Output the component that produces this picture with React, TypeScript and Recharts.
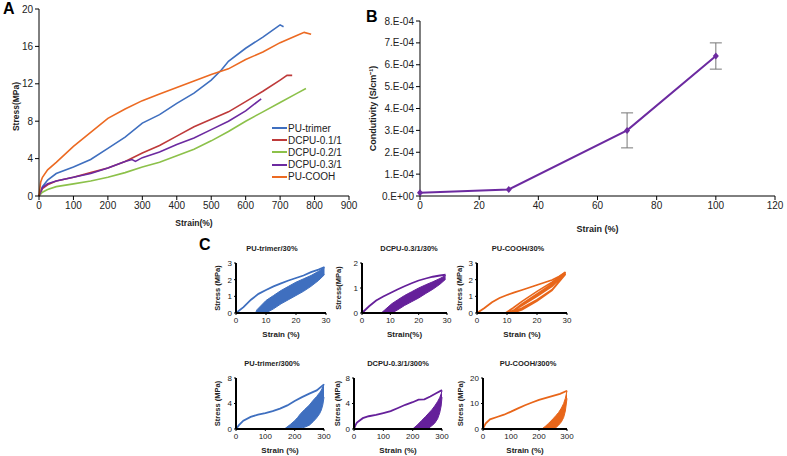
import React from "react";
import {
  LineChart,
  ComposedChart,
  Line,
  Area,
  XAxis,
  YAxis,
  ErrorBar,
} from "recharts";

const FONT = "Arial, 'Liberation Sans', sans-serif";

const BLUE = "#3f6fbf";
const RED = "#be3a3a";
const GREEN = "#8cc14a";
const PURPLE = "#6c2aa0";
const ORANGE = "#ec6a22";
const C_PURPLE = "#65209a";
const C_ORANGE = "#e8661a";

// ---- Panel A: stress-strain curves ----
const trimerX = [0, 10, 25, 50, 100, 150, 200, 250, 300, 350, 400, 450, 500, 530, 550, 600, 650, 700, 710];
const trimerY = [0, 1.0, 1.7, 2.4, 3.1, 3.9, 5.1, 6.3, 7.8, 8.7, 9.9, 11.0, 12.4, 13.5, 14.4, 15.8, 17.0, 18.3, 18.1];

const dcpu01X = [0, 10, 25, 50, 100, 150, 200, 250, 300, 350, 400, 450, 500, 550, 600, 650, 700, 720, 735];
const dcpu01Y = [0, 0.8, 1.2, 1.6, 2.0, 2.5, 3.0, 3.7, 4.6, 5.4, 6.4, 7.4, 8.2, 9.0, 10.1, 11.2, 12.4, 12.9, 12.9];

const dcpu02X = [0, 10, 25, 50, 100, 150, 200, 250, 300, 350, 400, 450, 500, 550, 600, 650, 700, 750, 775];
const dcpu02Y = [0, 0.4, 0.7, 1.0, 1.3, 1.6, 2.0, 2.5, 3.1, 3.6, 4.3, 5.0, 5.9, 6.9, 8.0, 9.0, 10.0, 11.0, 11.5];

const dcpu03X = [0, 10, 25, 50, 100, 150, 200, 250, 270, 280, 300, 350, 400, 450, 500, 550, 600, 645];
const dcpu03Y = [0, 0.9, 1.3, 1.6, 2.0, 2.4, 3.0, 3.7, 3.9, 3.7, 4.1, 4.7, 5.5, 6.2, 7.1, 8.0, 9.1, 10.4];

const coohX = [0, 5, 10, 25, 50, 100, 150, 200, 250, 300, 350, 400, 450, 500, 550, 600, 650, 700, 750, 770, 790];
const coohY = [0, 1.5, 2.0, 2.8, 3.6, 5.3, 6.8, 8.3, 9.3, 10.2, 10.9, 11.6, 12.3, 13.0, 13.6, 14.6, 15.4, 16.4, 17.2, 17.5, 17.3];

const aNames = ["PU-trimer", "DCPU-0.1/1", "DCPU-0.2/1", "DCPU-0.3/1", "PU-COOH"];
const aColors = [BLUE, RED, GREEN, PURPLE, ORANGE];
const aXTicks = [0, 100, 200, 300, 400, 500, 600, 700, 800, 900];
const aYTicks = [0, 4, 8, 12, 16, 20];

// ---- Panel B: conductivity ----
const bStrain = [0, 30, 70, 100];
const bCond = [0.000015, 0.00003, 0.0003, 0.00064];
const bErr = [0, 0, 0.00008, 0.00006];
const bXTicks = [0, 20, 40, 60, 80, 100, 120];
const bYTicks = [0, 0.0001, 0.0002, 0.0003, 0.0004, 0.0005, 0.0006, 0.0007, 0.0008];
const bYLabels = ["0.E+00", "1.E-04", "2.E-04", "3.E-04", "4.E-04", "5.E-04", "6.E-04", "7.E-04", "8.E-04"];

// ---- Panel C: cyclic loading ----
const c1LoadX = [0, 2.5, 5, 7.5, 10, 12.5, 15, 17.5, 20, 22.5, 25, 27.5, 29.5];
const c1LoadY = [0, 0.35, 0.8, 1.15, 1.38, 1.6, 1.78, 1.95, 2.1, 2.25, 2.45, 2.6, 2.75];
const c1BandX = [6.5, 7, 10, 12.5, 15, 17.5, 20, 22.5, 25, 27.5, 29.5];
const c1BandLow = [0, 0, 0, 0.25, 0.55, 0.8, 1.05, 1.3, 1.6, 1.95, 2.3];
const c1BandHigh = [0, 0.2, 0.75, 1.05, 1.35, 1.6, 1.85, 2.05, 2.25, 2.5, 2.72];

const c2LoadX = [0, 2.5, 5, 7.5, 10, 12.5, 15, 17.5, 20, 22.5, 25, 27.5, 29.5];
const c2LoadY = [0, 0.27, 0.5, 0.66, 0.8, 0.94, 1.07, 1.19, 1.3, 1.38, 1.45, 1.5, 1.53];
const c2BandX = [6.8, 8, 10.5, 12.5, 15, 17.5, 20, 22.5, 25, 27.5, 29.5];
const c2BandLow = [0, 0, 0, 0.12, 0.3, 0.45, 0.6, 0.78, 0.95, 1.15, 1.35];
const c2BandHigh = [0, 0.12, 0.37, 0.52, 0.7, 0.85, 1.0, 1.13, 1.25, 1.38, 1.5];

const c3LoadX = [0, 2.5, 5, 7.5, 10, 12.5, 15, 17.5, 20, 22.5, 25, 27.5, 29.5];
const c3LoadY = [0, 0.3, 0.65, 0.9, 1.08, 1.24, 1.38, 1.53, 1.68, 1.83, 1.98, 2.2, 2.45];
const c3CycleX = [29.5, 25, 20, 15, 12, 9.5, 10, 12.5, 15, 20, 25, 29.5, 25, 20, 15, 12.5, 10.5, 11, 15, 20, 25, 29.5, 25, 20, 15, 11.5, 12, 15, 20, 25, 29.5];
const c3CycleY = [2.45, 1.85, 1.3, 0.7, 0.3, 0, 0, 0.2, 0.45, 1.0, 1.6, 2.4, 1.75, 1.15, 0.55, 0.2, 0, 0, 0.3, 0.8, 1.4, 2.35, 1.7, 1.1, 0.5, 0, 0, 0.2, 0.72, 1.35, 2.32];

const c4LoadX = [0, 10, 25, 50, 75, 100, 125, 150, 175, 200, 225, 250, 275, 300];
const c4LoadY = [0, 0.6, 1.3, 1.9, 2.25, 2.5, 2.8, 3.2, 3.7, 4.4, 5.0, 5.55, 6.05, 7.0];
const c4BandX = [165, 185, 200, 210, 220, 235, 250, 263, 275, 285, 291, 296, 300];
const c4BandLow = [0, 0, 0, 0, 0.1, 0.3, 0.6, 1.15, 1.75, 2.4, 3.0, 3.8, 5.0];
const c4BandHigh = [0, 0.7, 1.3, 1.8, 2.4, 3.1, 3.75, 4.5, 5.1, 5.7, 6.1, 6.6, 7.0];

const c5LoadX = [0, 5, 10, 30, 50, 75, 100, 125, 150, 175, 200, 220, 240, 260, 280, 300];
const c5LoadY = [0, 0.6, 1.0, 1.7, 2.0, 2.2, 2.5, 2.8, 3.3, 3.8, 4.2, 4.6, 4.65, 5.1, 5.6, 6.1];
const c5BandX = [200, 215, 230, 245, 255, 265, 275, 285, 292, 297, 300];
const c5BandLow = [0, 0, 0, 0, 0.15, 0.5, 0.9, 1.6, 2.5, 3.6, 5.0];
const c5BandHigh = [0, 0.6, 1.3, 2.0, 2.5, 3.0, 3.6, 4.3, 4.9, 5.5, 6.0];

const c6LoadX = [0, 5, 10, 25, 50, 75, 100, 125, 150, 175, 200, 225, 250, 275, 300];
const c6LoadY = [0, 1.2, 2.2, 3.8, 4.7, 5.6, 6.8, 8.1, 9.3, 10.4, 11.4, 12.2, 13.0, 13.8, 15.0];
const c6BandX = [210, 222, 235, 250, 260, 270, 280, 288, 294, 300];
const c6BandLow = [0, 0, 0, 0, 0.5, 1.5, 2.8, 4.5, 7, 12];
const c6BandHigh = [0, 1.0, 2.3, 4.0, 5.2, 6.5, 8.2, 10.0, 12, 15];

const pts = (xs: number[], ys: number[]) => xs.map((x, i) => ({ x, y: ys[i] }));
const band = (xs: number[], lo: number[], hi: number[]) =>
  xs.map((x, i) => ({ x, r: [lo[i], hi[i]] }));

const aSeries = [
  pts(trimerX, trimerY),
  pts(dcpu01X, dcpu01Y),
  pts(dcpu02X, dcpu02Y),
  pts(dcpu03X, dcpu03Y),
  pts(coohX, coohY),
];

const tickA = { fontSize: 10, fill: "#222", fontFamily: FONT };
const tickC = { fontSize: 8, fill: "#222", fontFamily: FONT };

const Diamond = (props: any) => {
  const { cx, cy } = props;
  if (cx == null || cy == null) return null;
  return (
    <path
      d={`M${cx},${cy - 3.5}L${cx + 3},${cy}L${cx},${cy + 3.5}L${cx - 3},${cy}Z`}
      fill={PURPLE}
    />
  );
};

const PanelLetter = ({ x, y, text }: { x: number; y: number; text: string }) => (
  <div
    style={{
      position: "absolute",
      left: x,
      top: y,
      fontFamily: FONT,
      fontWeight: "bold",
      fontSize: 16,
      lineHeight: "16px",
    }}
  >
    {text}
  </div>
);

interface CycleProps {
  x0: number;
  x1: number;
  y0: number;
  y1: number;
  title: string;
  titleX: number;
  titleY: number;
  color: string;
  xMax: number;
  xTicks: number[];
  yMax: number;
  yTicks: number[];
  yLabel: string;
  xLabel: string;
  yGap: number;
  load: { x: number; y: number }[];
  band?: { x: number; r: number[] }[];
  cycles?: { x: number; y: number }[];
}

const CycleChart = (p: CycleProps) => {
  const left = p.x0 - 36;
  const top = p.y0 - 8;
  const w = p.x1 - p.x0 + 36 + 9;
  const h = p.y1 - p.y0 + 8 + 24 + 8;
  return (
    <>
      <div
        style={{
          position: "absolute",
          left: p.titleX,
          top: p.titleY,
          transform: "translate(-50%, -50%)",
          whiteSpace: "nowrap",
          fontFamily: FONT,
          fontWeight: "bold",
          fontSize: 7.5,
          color: "#222",
        }}
      >
        {p.title}
      </div>
      <div style={{ position: "absolute", left, top }}>
        <ComposedChart width={w} height={h} margin={{ top: 8, right: 9, bottom: 8, left: 6 }}>
          <XAxis
            type="number"
            dataKey="x"
            domain={[0, p.xMax]}
            ticks={p.xTicks}
            tick={tickC}
            tickSize={2}
            height={24}
            axisLine={{ stroke: "#000", strokeWidth: 2 }}
            tickLine={{ stroke: "#000" }}
            label={{
              value: p.xLabel,
              position: "insideBottom",
              offset: 0,
              style: { fontFamily: FONT, fontWeight: "bold", fontSize: 8, fill: "#222" },
            }}
          />
          <YAxis
            type="number"
            domain={[0, p.yMax]}
            ticks={p.yTicks}
            tick={tickC}
            tickSize={2}
            width={30}
            axisLine={{ stroke: "#000", strokeWidth: 2 }}
            tickLine={{ stroke: "#000" }}
            label={{
              value: p.yLabel,
              angle: -90,
              position: "insideLeft",
              offset: 30 - p.yGap,
              style: { textAnchor: "middle", fontFamily: FONT, fontWeight: "bold", fontSize: 7.5, fill: "#222" },
            }}
          />
          {p.band && (
            <Area
              data={p.band}
              dataKey="r"
              type="linear"
              stroke={p.color}
              strokeWidth={1}
              fill={p.color}
              fillOpacity={1}
              isAnimationActive={false}
            />
          )}
          {p.cycles && (
            <Line
              data={p.cycles}
              dataKey="y"
              type="linear"
              stroke={p.color}
              strokeWidth={1.6}
              dot={false}
              isAnimationActive={false}
            />
          )}
          <Line
            data={p.load}
            dataKey="y"
            type="linear"
            stroke={p.color}
            strokeWidth={1.8}
            dot={false}
            isAnimationActive={false}
          />
        </ComposedChart>
      </div>
    </>
  );
};

export default function App() {
  return (
    <div style={{ position: "absolute", left: 0, top: 0, width: 787, height: 456, background: "#fff" }}>
      {/* Panel A */}
      <div style={{ position: "absolute", left: 0, top: 0 }}>
        <LineChart width={360} height={232} margin={{ top: 9, right: 11, bottom: 6, left: 8 }}>
          <XAxis
            type="number"
            dataKey="x"
            domain={[0, 900]}
            ticks={aXTicks}
            tick={tickA}
            tickSize={4}
            height={30}
            axisLine={{ stroke: "#000" }}
            tickLine={{ stroke: "#000" }}
            label={{
              value: "Strain(%)",
              position: "insideBottom",
              offset: 0,
              style: { fontFamily: FONT, fontWeight: "bold", fontSize: 8.5, fill: "#222" },
            }}
          />
          <YAxis
            type="number"
            domain={[0, 20]}
            ticks={aYTicks}
            tick={tickA}
            tickSize={4}
            width={31}
            axisLine={{ stroke: "#000" }}
            tickLine={{ stroke: "#000" }}
            label={{
              value: "Stress(MPa)",
              angle: -90,
              position: "insideLeft",
              offset: 7.5,
              dy: 4,
              style: { textAnchor: "middle", fontFamily: FONT, fontWeight: "bold", fontSize: 8.5, fill: "#222" },
            }}
          />
          {aSeries.map((d, i) => (
            <Line
              key={aNames[i]}
              data={d}
              dataKey="y"
              name={aNames[i]}
              stroke={aColors[i]}
              strokeWidth={1.6}
              dot={false}
              isAnimationActive={false}
            />
          ))}
        </LineChart>
      </div>
      {/* legend of panel A */}
      <div style={{ position: "absolute", left: 272, top: 122, fontFamily: FONT, fontSize: 10, color: "#222" }}>
        {aNames.map((n, i) => (
          <div key={n} style={{ display: "flex", alignItems: "center", height: 12.2 }}>
            <span style={{ display: "inline-block", width: 15, height: 2, background: aColors[i], marginRight: 1 }} />
            <span>{n}</span>
          </div>
        ))}
      </div>
      <PanelLetter x={3} y={1} text="A" />

      {/* Panel B */}
      <div style={{ position: "absolute", left: 360, top: 0 }}>
        <LineChart
          width={427}
          height={240}
          margin={{ top: 21, right: 12, bottom: 8, left: 8 }}
          data={bStrain.map((s, i) => ({ x: s, y: bCond[i], err: bErr[i] }))}
        >
          <XAxis
            type="number"
            dataKey="x"
            domain={[0, 120]}
            ticks={bXTicks}
            tick={tickA}
            tickSize={4}
            height={36}
            axisLine={{ stroke: "#000" }}
            tickLine={{ stroke: "#000" }}
            label={{
              value: "Strain (%)",
              position: "insideBottom",
              offset: 0,
              style: { fontFamily: FONT, fontWeight: "bold", fontSize: 9, fill: "#222" },
            }}
          />
          <YAxis
            type="number"
            domain={[0, 0.0008]}
            ticks={bYTicks}
            tick={tickA}
            tickSize={4}
            width={52}
            tickFormatter={(v: number, i: number) => bYLabels[i] ?? String(v)}
            axisLine={{ stroke: "#000" }}
            tickLine={{ stroke: "#000" }}
            label={{
              value: "Condutivity (S/cm⁻¹)",
              angle: -90,
              position: "insideLeft",
              offset: 4.5,
              style: { textAnchor: "middle", fontFamily: FONT, fontWeight: "bold", fontSize: 9, fill: "#222" },
            }}
          />
          <Line
            dataKey="y"
            type="linear"
            stroke={PURPLE}
            strokeWidth={2}
            dot={<Diamond />}
            isAnimationActive={false}
          >
            <ErrorBar dataKey="err" width={6} stroke="#777" strokeWidth={1} direction="y" />
          </Line>
        </LineChart>
      </div>
      <PanelLetter x={366} y={9} text="B" />

      {/* Panel C */}
      <PanelLetter x={199} y={237} text="C" />
      <CycleChart
        x0={236} x1={326} y0={263} y1={313}
        title="PU-trimer/30%" titleX={272} titleY={248}
        color={BLUE} xMax={30} xTicks={[0, 10, 20, 30]} yMax={3} yTicks={[0, 1, 2, 3]}
        yLabel="Stress (MPa)" xLabel="Strain (%)" yGap={19}
        load={pts(c1LoadX, c1LoadY)} band={band(c1BandX, c1BandLow, c1BandHigh)}
      />
      <CycleChart
        x0={362} x1={447} y0={263} y1={313}
        title="DCPU-0.3/1/30%" titleX={409} titleY={248}
        color={C_PURPLE} xMax={30} xTicks={[0, 10, 20, 30]} yMax={2} yTicks={[0, 0.5, 1, 1.5, 2]}
        yLabel="Stress(MPa)" xLabel="Strain(%)" yGap={24}
        load={pts(c2LoadX, c2LoadY)} band={band(c2BandX, c2BandLow, c2BandHigh)}
      />
      <CycleChart
        x0={477} x1={567} y0={263} y1={313}
        title="PU-COOH/30%" titleX={518} titleY={248}
        color={C_ORANGE} xMax={30} xTicks={[0, 10, 20, 30]} yMax={3} yTicks={[0, 1, 2, 3]}
        yLabel="Stress (MPa)" xLabel="Strain (%)" yGap={18}
        load={pts(c3LoadX, c3LoadY)} cycles={pts(c3CycleX, c3CycleY)}
      />
      <CycleChart
        x0={236} x1={324} y0={378} y1={429}
        title="PU-trimer/300%" titleX={272} titleY={363}
        color={BLUE} xMax={300} xTicks={[0, 100, 200, 300]} yMax={8} yTicks={[0, 2, 4, 6, 8]}
        yLabel="Stress (MPa)" xLabel="Strain (%)" yGap={19}
        load={pts(c4LoadX, c4LoadY)} band={band(c4BandX, c4BandLow, c4BandHigh)}
      />
      <CycleChart
        x0={354} x1={442} y0={378} y1={429}
        title="DCPU-0.3/1/300%" titleX={398} titleY={363}
        color={C_PURPLE} xMax={300} xTicks={[0, 100, 200, 300]} yMax={8} yTicks={[0, 2, 4, 6, 8]}
        yLabel="Stress (MPa)" xLabel="Strain (%)" yGap={17}
        load={pts(c5LoadX, c5LoadY)} band={band(c5BandX, c5BandLow, c5BandHigh)}
      />
      <CycleChart
        x0={483} x1={567} y0={378} y1={429}
        title="PU-COOH/300%" titleX={528} titleY={363}
        color={C_ORANGE} xMax={300} xTicks={[0, 100, 200, 300]} yMax={20} yTicks={[0, 5, 10, 15, 20]}
        yLabel="Stress (MPa)" xLabel="Strain (%)" yGap={23}
        load={pts(c6LoadX, c6LoadY)} band={band(c6BandX, c6BandLow, c6BandHigh)}
      />
    </div>
  );
}
